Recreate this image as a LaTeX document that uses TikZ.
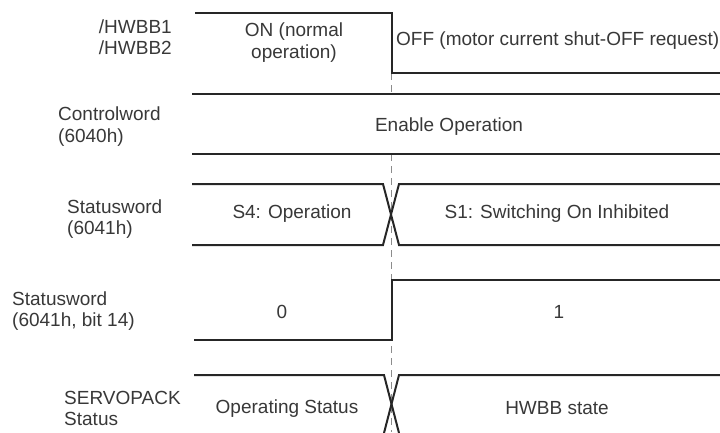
\documentclass[tikz,border=0pt]{standalone}
\usepackage{fontspec}
\setmainfont{Liberation Sans}
\usetikzlibrary{positioning, calc}
\definecolor{WaveDark}{HTML}{262626}
\definecolor{TextGray}{HTML}{383838}
\definecolor{EdgeGray}{HTML}{8C8C8C}

\begin{document}
\begin{tikzpicture}[x=1pt, y=-1pt, every node/.style={font=\fontsize{19}{21.5}\selectfont, text=TextGray, inner sep=0pt},
    wave/.style={draw=WaveDark, line width=2pt, line join=miter},
    signame/.style={align=left, anchor=west},
    stateval/.style={anchor=base},
    edgeline/.style={draw=EdgeGray, line width=0.8pt, dash pattern=on 7pt off 5pt}]
  \useasboundingbox (0,0) rectangle (720,432);
  \clip (0,0) rectangle (720,432);

  % timing of the HWBB input
  \coordinate (hwbbEdge) at (391.5,73);
  \draw[edgeline] (hwbbEdge) -- (hwbbEdge |- 0,94);
  \draw[edgeline] (hwbbEdge |- 0,154) -- (hwbbEdge |- 0,432);

  % signal names
  \node[align=right, anchor=east] (hwbb) at (172,37) {/HWBB1\\/HWBB2};
  \node[signame] (ctrl) at (58,126.5) {Controlword\\(6040h)};
  \node[signame] (stat) at (67,219) {Statusword\\(6041h)};
  \node[signame] (bit) at (12,311) {Statusword\\(6041h, bit 14)};
  \node[signame] (svpk) at (64,408.5) {SERVOPACK\\Status};

  % HWBB
  \draw[wave] (195,13) -- (hwbbEdge |- 0,13) -- (hwbbEdge) -- (720,73);
  \node[align=center] (hwbbOn) at (294,42.5) {ON (normal\\operation)};
  \node[anchor=base west] (hwbbOff) at (396,45) {OFF (motor current shut-OFF request)};

  % Controlword
  \draw[wave] (192,94) -- (720,94);
  \draw[wave] (192,154) -- (720,154);
  \node[stateval] (ctrlVal) at (449,131.5) {Enable Operation};

  % Statusword
  \draw[wave] (192,184) -- (383,184) -- (399,245) -- (720,245);
  \draw[wave] (192,245) -- (383,245) -- (399,184) -- (720,184);
  \node[stateval] (statOld) at (292,218.5) {S4: Operation};
  \node[stateval] (statNew) at (557,218.5) {S1: Switching On Inhibited};

  % bit 14
  \draw[wave] (194,340) -- (hwbbEdge |- 0,340) -- (hwbbEdge |- 0,280) -- (720,280);
  \node[stateval] (bitOld) at (282,318) {0};
  \node[stateval] (bitNew) at (559,318) {1};

  % SERVOPACK status
  \draw[wave] (194,375) -- (384,375) -- (399,433);
  \draw[wave] (720,375) -- (399,375) -- (384,433);
  \node[stateval] (svpkOld) at (287,413.5) {Operating Status};
  \node[stateval] (svpkNew) at (557,414) {HWBB state};
\end{tikzpicture}
\end{document}
